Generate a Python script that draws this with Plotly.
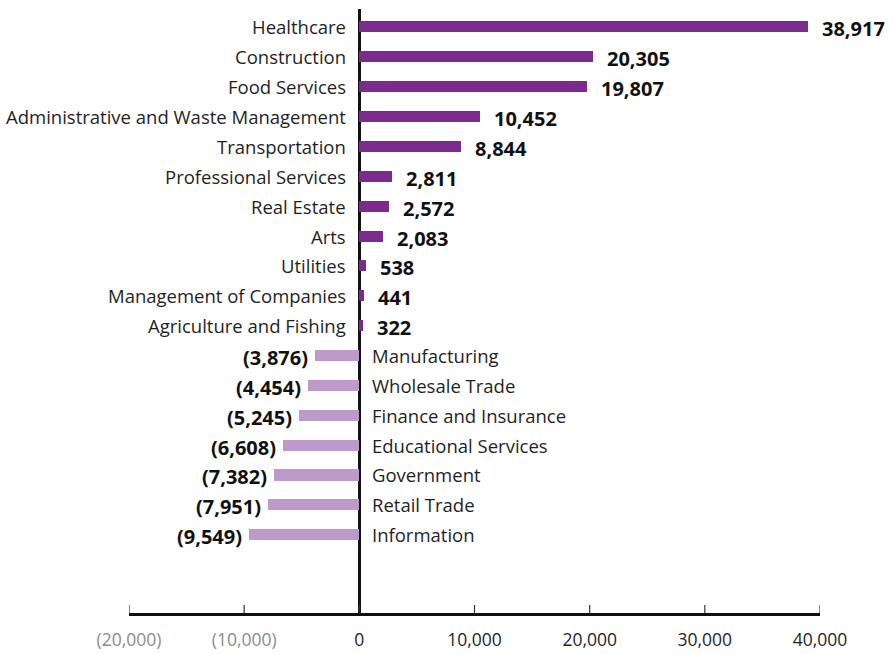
import plotly.graph_objects as go

# Net change by industry
categories = [
    "Healthcare", "Construction", "Food Services",
    "Administrative and Waste Management", "Transportation",
    "Professional Services", "Real Estate", "Arts", "Utilities",
    "Management of Companies", "Agriculture and Fishing",
    "Manufacturing", "Wholesale Trade", "Finance and Insurance",
    "Educational Services", "Government", "Retail Trade", "Information",
]
values = [
    38917, 20305, 19807, 10452, 8844, 2811, 2572, 2083, 538, 441, 322,
    -3876, -4454, -5245, -6608, -7382, -7951, -9549,
]

tick_values = [-20000, -10000, 0, 10000, 20000, 30000, 40000]
tick_labels = ["(20,000)", "(10,000)", "0", "10,000", "20,000", "30,000", "40,000"]

POS_COLOR = "#7B2A8E"
NEG_COLOR = "#BC9BCA"
TEXT_COLOR = "#1f1f1f"
FONT = "Open Sans"


def fmt(v):
    s = f"{abs(v):,}"
    return f"({s})" if v < 0 else s


positions = list(range(len(categories)))
colors = [POS_COLOR if v >= 0 else NEG_COLOR for v in values]

fig = go.Figure()
fig.add_trace(go.Bar(
    x=values,
    y=positions,
    orientation="h",
    marker=dict(color=colors, line=dict(width=0)),
    width=0.37,
    hoverinfo="skip",
))

annotations = []
for i, (cat, v) in enumerate(zip(categories, values)):
    # category name on the opposite side of the zero line
    annotations.append(dict(
        x=0, y=i, xref="x", yref="y", text=cat, showarrow=False,
        xanchor="right" if v >= 0 else "left",
        xshift=-11 if v >= 0 else 11,
        font=dict(family=FONT, size=18.5, color=TEXT_COLOR),
    ))
    # value label at the end of the bar
    annotations.append(dict(
        x=v, y=i, xref="x", yref="y", text=f"<b>{fmt(v)}</b>", showarrow=False,
        xanchor="left" if v >= 0 else "right",
        xshift=12 if v >= 0 else -5,
        yshift=-2,
        font=dict(family=FONT, size=20, color="#111111"),
    ))

# small upward tick marks sitting on the x axis line
shapes = [
    dict(type="line", xref="x", yref="paper", x0=tv, x1=tv,
         ysizemode="pixel", yanchor=0, y0=0, y1=8,
         line=dict(color="#333333", width=1.2), layer="above")
    for tv in tick_values
]

ticktext = [
    f'<span style="color:#8c8c8c">{t}</span>' if tv < 0 else t
    for t, tv in zip(tick_labels, tick_values)
]

fig.update_layout(
    width=893, height=654,
    margin=dict(l=129, r=73, t=9, b=41, autoexpand=False),
    paper_bgcolor="white", plot_bgcolor="white",
    showlegend=False,
    annotations=annotations,
    shapes=shapes,
    font=dict(family=FONT, size=17, color=TEXT_COLOR),
    xaxis=dict(
        range=[-20000, 40000],
        tickvals=tick_values, ticktext=ticktext,
        showgrid=False,
        zeroline=True, zerolinecolor="#111111", zerolinewidth=2.5,
        showline=True, linecolor="#111111", linewidth=2.5,
        ticks="", ticklabelstandoff=9,
        automargin=False,
        tickfont=dict(family=FONT, size=17.5, color=TEXT_COLOR),
        fixedrange=True,
    ),
    yaxis=dict(
        range=[19.62, -0.6],
        showticklabels=False, showgrid=False, zeroline=False,
        showline=False, ticks="",
        automargin=False,
        fixedrange=True,
    ),
    bargap=0,
)

fig.write_html("out.html")
